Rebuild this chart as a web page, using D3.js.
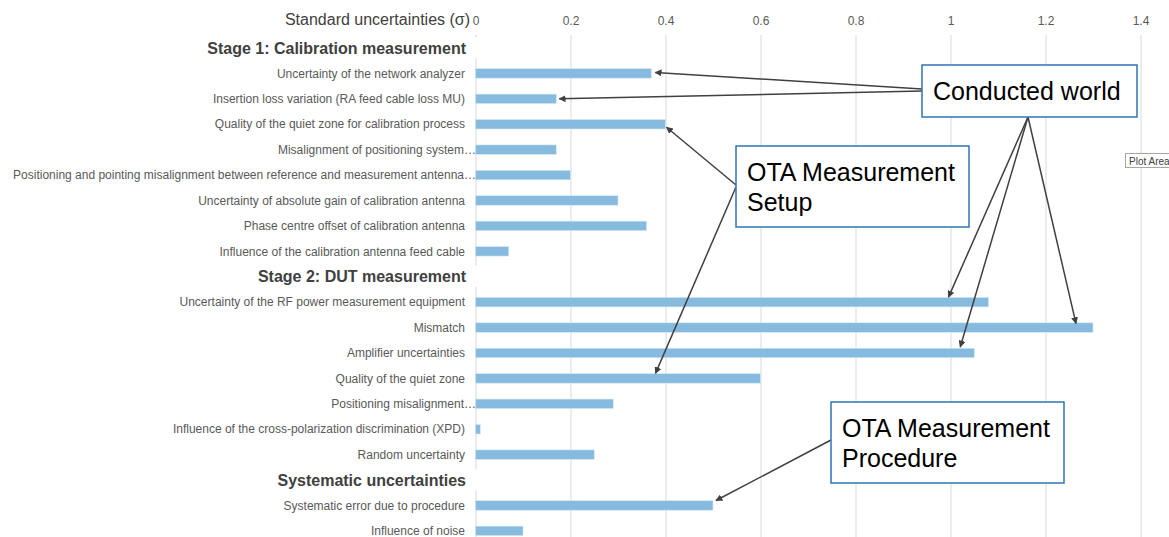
<!DOCTYPE html>
<html>
<head>
<meta charset="utf-8">
<script src="https://cdn.jsdelivr.net/npm/d3@7"></script>
<style>
  html, body { margin: 0; padding: 0; background: #ffffff; }
  svg { display: block; font-family: "Liberation Sans", Arial, sans-serif; }
</style>
</head>
<body>
<svg id="chart" width="1169" height="537"></svg>
<script>
// ---------- DATA ----------
const rowLabels = [
  "Stage 1: Calibration measurement",
  "Uncertainty of the network analyzer",
  "Insertion loss variation (RA feed cable loss MU)",
  "Quality of the quiet zone for calibration process",
  "Misalignment of positioning system…",
  "Positioning and pointing misalignment between reference and measurement antenna…",
  "Uncertainty of absolute gain of calibration antenna",
  "Phase centre offset of calibration antenna",
  "Influence of the calibration antenna feed cable",
  "Stage 2: DUT measurement",
  "Uncertainty of the RF power measurement equipment",
  "Mismatch",
  "Amplifier uncertainties",
  "Quality of the quiet zone",
  "Positioning misalignment…",
  "Influence of the cross-polarization discrimination (XPD)",
  "Random uncertainty",
  "Systematic uncertainties",
  "Systematic error due to procedure",
  "Influence of noise"
];
// null = section header row
const rowValues = [null, 0.37, 0.17, 0.40, 0.17, 0.20, 0.30, 0.36, 0.07,
                   null, 1.08, 1.30, 1.05, 0.60, 0.29, 0.01, 0.25,
                   null, 0.50, 0.10];
const tickValues = [0, 0.2, 0.4, 0.6, 0.8, 1, 1.2, 1.4];
const tickLabels = ["0", "0.2", "0.4", "0.6", "0.8", "1", "1.2", "1.4"];
const axisTitle = "Standard uncertainties (σ)";

// Annotations: callout text and the rows they point to
const callouts = [
  { lines: ["Conducted world"], targets: [1, 2, 10, 11, 12] },
  { lines: ["OTA Measurement", "Setup"], targets: [3, 13] },
  { lines: ["OTA Measurement", "Procedure"], targets: [18] }
];

// ---------- LAYOUT ----------
const svg = d3.select("#chart");
const W = 1169, H = 537;
const plotTop = 35;
const x = d3.scaleLinear().domain([0, 1.4]).range([475.5, 1140.5]);
const y = d3.scalePoint().domain(d3.range(rowLabels.length)).range([35.3, 543.6]).padding(0.5);
const barH = 9.5;

// gridlines
const grid = svg.append("g").attr("transform", `translate(0,${plotTop})`)
  .call(d3.axisBottom(x).tickValues(tickValues).tickSize(H - plotTop).tickFormat(""));
grid.select(".domain").remove();
grid.selectAll("line").attr("stroke", "#d9d9d9").attr("stroke-width", 1);

// top tick labels
const ax = svg.append("g").attr("transform", `translate(0,25)`)
  .call(d3.axisTop(x).tickValues(tickValues).tickSize(0).tickPadding(0)
        .tickFormat((d, i) => tickLabels[i]));
ax.select(".domain").remove();
ax.selectAll("text").attr("font-size", 12).attr("fill", "#595959")
  .attr("font-family", "'Liberation Sans', Arial, sans-serif");

svg.append("text").attr("x", 470).attr("y", 25).attr("text-anchor", "end")
  .attr("font-size", 16).attr("fill", "#404040").text(axisTitle);

// bars
const rows = rowLabels.map((l, i) => ({ i, label: l, value: rowValues[i] }));
svg.append("g").selectAll("rect").data(rows.filter(d => d.value !== null)).join("rect")
  .attr("x", x(0))
  .attr("y", d => y(d.i) - barH / 2)
  .attr("width", d => x(d.value) - x(0))
  .attr("height", barH)
  .attr("fill", "#86bbdf")
  .attr("stroke", "#d6e8f5").attr("stroke-width", 0.6);

// header rows (white-backed text boxes)
const hdr = svg.append("g").selectAll("g").data(rows.filter(d => d.value === null)).join("g");
hdr.append("rect").attr("x", 195).attr("y", d => y(d.i) - 11).attr("width", 283).attr("height", 21)
  .attr("fill", "#ffffff");
hdr.append("text").attr("x", 466).attr("y", d => y(d.i)).attr("dy", "0.35em")
  .attr("text-anchor", "end").attr("font-size", 16).attr("font-weight", "bold")
  .attr("fill", "#404040").text(d => d.label);

// category labels
svg.append("g").selectAll("text").data(rows.filter(d => d.value !== null)).join("text")
  .attr("x", d => d.label.endsWith("…") ? 476 : 465)
  .attr("y", d => y(d.i)).attr("dy", "0.35em")
  .attr("text-anchor", "end").attr("font-size", 12).attr("fill", "#595959")
  .text(d => d.label);

// ---------- ANNOTATIONS ----------
const defs = svg.append("defs");
defs.append("marker").attr("id", "ah").attr("viewBox", "0 0 10 10")
  .attr("refX", 9).attr("refY", 5).attr("markerWidth", 7).attr("markerHeight", 7)
  .attr("markerUnits", "userSpaceOnUse").attr("orient", "auto")
  .append("path").attr("d", "M0,0 L10,5 L0,10 z").attr("fill", "#404040");

// callout boxes (annotation placement)
const boxes = [
  { x: 922, y: 65, w: 215, h: 52, start: [[922, 89], [922, 91], [1028, 117], [1028, 117], [1028, 117]],
    tipOff: [[4, -1], [3, 0], [-40, -5], [-17, -4], [-14, -6]] },
  { x: 736, y: 146, w: 233, h: 81, start: [[736, 185], [736, 187]],
    tipOff: [[1, 3], [-105, -5]] },
  { x: 831, y: 402, w: 233, h: 81, start: [[831, 440]],
    tipOff: [[3, -5]] }
];

const ann = svg.append("g");
callouts.forEach((c, k) => {
  const b = boxes[k];
  c.targets.forEach((r, j) => {
    const tx = x(rowValues[r]) + b.tipOff[j][0];
    const ty = y(r) + b.tipOff[j][1];
    ann.append("line")
      .attr("x1", b.start[j][0]).attr("y1", b.start[j][1])
      .attr("x2", tx).attr("y2", ty)
      .attr("stroke", "#404040").attr("stroke-width", 1.5)
      .attr("marker-end", "url(#ah)");
  });
});
callouts.forEach((c, k) => {
  const b = boxes[k];
  ann.append("rect").attr("x", b.x).attr("y", b.y).attr("width", b.w).attr("height", b.h)
    .attr("fill", "#ffffff").attr("stroke", "#2e75b6").attr("stroke-width", 1.5);
  c.lines.forEach((t, li) => {
    ann.append("text").attr("x", b.x + 11).attr("y", b.y + 26 + li * 30).attr("dy", "0.35em")
      .attr("font-size", 25).attr("fill", "#000000").text(t);
  });
});

// Excel "Plot Area" tooltip artifact
svg.append("rect").attr("x", 1125.5).attr("y", 153.5).attr("width", 50).attr("height", 14)
  .attr("fill", "#ffffff").attr("stroke", "#a6a6a6").attr("stroke-width", 1);
svg.append("text").attr("x", 1129).attr("y", 161).attr("dy", "0.35em")
  .attr("font-size", 10).attr("fill", "#404040").text("Plot Area");
</script>
</body>
</html>
